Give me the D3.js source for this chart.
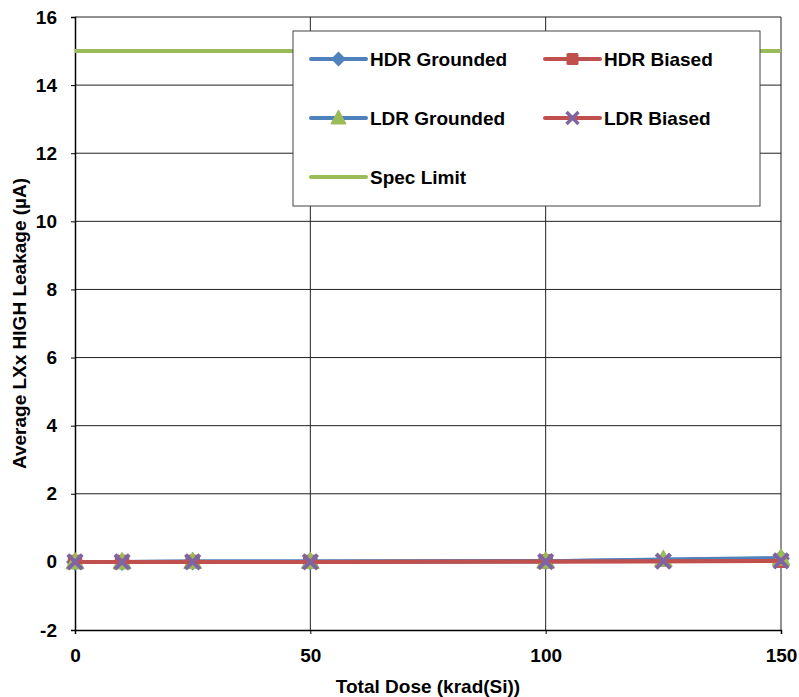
<!DOCTYPE html>
<html>
<head>
<meta charset="utf-8">
<script src="https://cdn.jsdelivr.net/npm/d3@7"></script>
<style>
  body { margin: 0; background: #fff; }
  svg { display: block; font-family: "Liberation Sans", Arial, sans-serif; font-weight: bold; }
</style>
</head>
<body>
<svg id="chart" width="799" height="697"></svg>
<script>
// Average LXx HIGH leakage (µA) versus total dose (krad(Si))
const hdrDose = [0, 10, 25, 50, 100, 150];
const ldrDose = [0, 10, 25, 50, 100, 125, 150];
const hdrGrounded = [0.0, 0.0, 0.01, 0.01, 0.02, 0.1];
const hdrBiased   = [0.0, 0.0, 0.0, 0.0, 0.01, 0.03];
const ldrGrounded = [0.0, 0.0, 0.01, 0.01, 0.02, 0.07, 0.11];
const ldrBiased   = [0.0, 0.0, 0.0, 0.0, 0.01, 0.02, 0.03];
const specLimit = 15;
const xTicks = [0, 50, 100, 150];
const yTicks = [-2, 0, 2, 4, 6, 8, 10, 12, 14, 16];

const blue = "#4F81BD", red = "#C0504D", green = "#9BBB59", purple = "#8064A2";

const series = [
  { name: "HDR Grounded", x: hdrDose, y: hdrGrounded, line: blue, marker: "diamond", fill: blue },
  { name: "HDR Biased",   x: hdrDose, y: hdrBiased,   line: red,  marker: "square",  fill: red },
  { name: "LDR Grounded", x: ldrDose, y: ldrGrounded, line: blue, marker: "triangle", fill: green },
  { name: "LDR Biased",   x: ldrDose, y: ldrBiased,   line: red,  marker: "cross",   fill: purple }
];

const svg = d3.select("#chart");
const plotLeft = 75, plotRight = 781, plotTop = 17, plotBottom = 630;
const fontSize = "19px";
const plainNumber = d => String(d); // hyphen-minus, as in the printed axis

const x = d3.scaleLinear().domain([0, 150]).range([plotLeft, plotRight]);
const y = d3.scaleLinear().domain([-2, 16]).range([plotBottom, plotTop]);

// gridlines
svg.append("g").selectAll("line").data(yTicks.filter(d => d > -2)).join("line")
  .attr("x1", plotLeft).attr("x2", plotRight)
  .attr("y1", d => y(d)).attr("y2", d => y(d))
  .attr("stroke", "#222").attr("stroke-width", 1);
svg.append("g").selectAll("line").data(xTicks.filter(d => d > 0)).join("line")
  .attr("x1", d => x(d)).attr("x2", d => x(d))
  .attr("y1", plotTop).attr("y2", plotBottom)
  .attr("stroke", "#222").attr("stroke-width", 1);

// axes
const yAxis = svg.append("g").attr("transform", `translate(${plotLeft},0)`)
  .call(d3.axisLeft(y).tickValues(yTicks).tickSize(4).tickPadding(14).tickFormat(plainNumber));
const xAxis = svg.append("g").attr("transform", `translate(0,${plotBottom})`)
  .call(d3.axisBottom(x).tickValues(xTicks).tickSize(4).tickPadding(15).tickFormat(plainNumber));
[yAxis, xAxis].forEach(a => {
  a.select(".domain").attr("stroke", "#000").attr("stroke-width", 1.5);
  a.selectAll(".tick line").attr("stroke", "#000");
  a.selectAll(".tick text").attr("fill", "#000")
    .style("font-size", fontSize).style("font-weight", "bold")
    .style("font-family", "'Liberation Sans', Arial, sans-serif");
});

// spec limit
svg.append("line")
  .attr("x1", x(0)).attr("x2", x(150))
  .attr("y1", y(specLimit)).attr("y2", y(specLimit))
  .attr("stroke", green).attr("stroke-width", 4);

// markers
function marker(g, type, fill, cx, cy, s) {
  if (type === "diamond") {
    g.append("path").attr("d", `M${cx},${cy - s}L${cx + s},${cy}L${cx},${cy + s}L${cx - s},${cy}Z`).attr("fill", fill);
  } else if (type === "square") {
    g.append("rect").attr("x", cx - s * 0.8).attr("y", cy - s * 0.8)
      .attr("width", s * 1.6).attr("height", s * 1.6).attr("rx", 1.5).attr("fill", fill);
  } else if (type === "triangle") {
    g.append("path").attr("d", `M${cx},${cy - s}L${cx + s * 0.95},${cy + s * 0.75}L${cx - s * 0.95},${cy + s * 0.75}Z`)
      .attr("fill", fill).attr("stroke", fill).attr("stroke-width", 1.5).attr("stroke-linejoin", "round");
  } else if (type === "cross") {
    const k = s * 0.8;
    g.append("path").attr("d", `M${cx - k},${cy - k}L${cx + k},${cy + k}M${cx - k},${cy + k}L${cx + k},${cy - k}`)
      .attr("stroke", fill).attr("stroke-width", s * 0.45);
  }
}

const line = d3.line().x(d => x(d[0])).y(d => y(d[1]));
series.forEach(s => {
  const pts = s.x.map((v, i) => [v, s.y[i]]);
  const g = svg.append("g");
  g.append("path").attr("d", line(pts)).attr("fill", "none")
    .attr("stroke", s.line).attr("stroke-width", 4);
  pts.forEach(p => marker(g, s.marker, s.fill, x(p[0]), y(p[1]), 9));
});

// legend
const lg = svg.append("g");
lg.append("rect").attr("x", 293).attr("y", 31).attr("width", 467).attr("height", 175)
  .attr("fill", "#fff").attr("stroke", "#444").attr("stroke-width", 1);
const legendItems = [
  { name: "HDR Grounded", line: blue, marker: "diamond", fill: blue, col: 0, row: 0 },
  { name: "HDR Biased", line: red, marker: "square", fill: red, col: 1, row: 0 },
  { name: "LDR Grounded", line: blue, marker: "triangle", fill: green, col: 0, row: 1 },
  { name: "LDR Biased", line: red, marker: "cross", fill: purple, col: 1, row: 1 },
  { name: "Spec Limit", line: green, marker: null, fill: null, col: 0, row: 2 }
];
legendItems.forEach(it => {
  const lx = 311 + it.col * 234, ly = 59 + it.row * 59;
  lg.append("line").attr("x1", lx).attr("x2", lx + 55).attr("y1", ly).attr("y2", ly)
    .attr("stroke", it.line).attr("stroke-width", 4).attr("stroke-linecap", "round");
  if (it.marker) marker(lg, it.marker, it.fill, lx + 27.5, ly, 7.5);
  lg.append("text").attr("x", lx + 59).attr("y", ly).attr("dy", "0.35em")
    .style("font-size", fontSize).attr("fill", "#000").text(it.name);
});

// axis titles
svg.append("text").attr("x", 428).attr("y", 693)
  .attr("text-anchor", "middle").style("font-size", fontSize).text("Total Dose (krad(Si))");
svg.append("text")
  .attr("transform", `translate(26,${(plotTop + plotBottom) / 2}) rotate(-90)`)
  .attr("text-anchor", "middle").style("font-size", fontSize).text("Average LXx HIGH Leakage (µA)");
</script>
</body>
</html>
